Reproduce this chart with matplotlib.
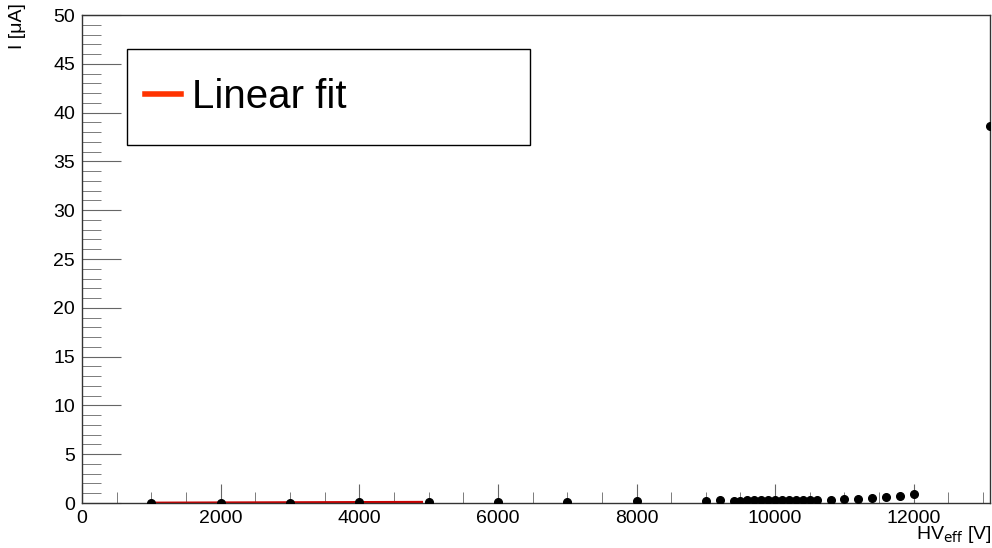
import numpy as np
import matplotlib.pyplot as plt
from matplotlib.ticker import MultipleLocator
from matplotlib.patches import Rectangle

plt.rcParams['font.family'] = ['Liberation Sans', 'DejaVu Sans']

# measured points
hv = [1000, 2000, 3000, 4000, 5000, 6000, 7000, 8000, 9000, 9200, 9400, 9500,
      9600, 9700, 9800, 9900, 10000, 10100, 10200, 10300, 10400, 10500, 10600,
      10800, 11000, 11200, 11400, 11600, 11800, 12000, 13100]
current = [0.0, 0.02, 0.04, 0.06, 0.08, 0.1, 0.15, 0.18, 0.25, 0.27, 0.25, 0.25,
           0.26, 0.27, 0.28, 0.28, 0.29, 0.29, 0.3, 0.3, 0.31, 0.32, 0.33,
           0.35, 0.4, 0.45, 0.5, 0.6, 0.7, 0.92, 38.6]

# linear fit range
fit_x = [1000, 4900]
fit_slope = 2.0e-5
fit_offset = -0.02

fig = plt.figure(figsize=(9.92, 5.48), dpi=100)
ax = fig.add_axes([82/992, 1 - 503/548, 908/992, 488/548])

ax.errorbar(hv, current, yerr=0.08, fmt='o', color='black', ms=5.5,
            elinewidth=2, capsize=0, clip_on=True, zorder=3)
fx = np.array(fit_x)
ax.plot(fx, fit_offset + fit_slope * fx, color='#cc0000', lw=2, zorder=2)

ax.set_xlim(0, 13100)
ax.set_ylim(0, 50)
ax.xaxis.set_major_locator(MultipleLocator(2000))
ax.xaxis.set_minor_locator(MultipleLocator(500))
ax.yaxis.set_major_locator(MultipleLocator(5))
ax.yaxis.set_minor_locator(MultipleLocator(1))
ax.tick_params(which='both', direction='in', top=False, right=False,
               labelsize=14, color='#666666', pad=5)
ax.tick_params(axis='x', which='major', length=14)
ax.tick_params(axis='x', which='minor', length=8)
ax.tick_params(axis='y', which='major', length=28)
ax.tick_params(axis='y', which='minor', length=14)
for s in ax.spines.values():
    s.set_color('#333333')
    s.set_linewidth(1)

fig.text(992/992, 3/548, r'HV$_{\rm eff}$ [V]', ha='right', va='bottom',
         fontsize=14)
fig.text(9/992, 1 - 3/548, u'I [\u03bcA]', rotation=90, ha='left', va='top',
         fontsize=14)

# legend box (fixed size like ROOT's TLegend)
fig.patches.append(Rectangle((127/992, 1 - 145/548), 403/992, 96/548,
                             transform=fig.transFigure, facecolor='white',
                             edgecolor='black', lw=1, zorder=5))
(leg_line,) = ax.plot([], [], color='#ff3300', lw=4)
leg = fig.legend([leg_line], ['Linear fit'], loc='center left',
                 bbox_to_anchor=(145/992, 1 - 97/548), fontsize=29,
                 frameon=False, handlelength=0.9, handletextpad=0.27,
                 borderaxespad=0, borderpad=0)
leg.set_zorder(6)

fig.savefig('out.png', dpi=100)
